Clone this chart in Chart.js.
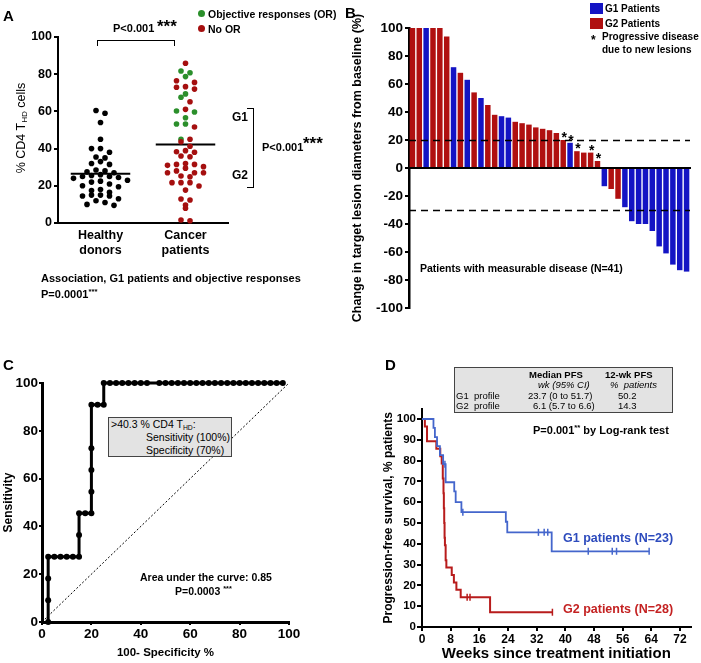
<!DOCTYPE html>
<html>
<head>
<meta charset="utf-8">
<title>THD profile figure</title>
<script src="https://cdn.jsdelivr.net/npm/chart.js@4.4.1/dist/chart.umd.min.js"></script>
<style>
  body{margin:0;background:#fff;}
  #fig{position:relative;width:701px;height:663px;overflow:hidden;font-family:'Liberation Sans',Arial,Helvetica,sans-serif;color:#000;}
  #fig canvas{position:absolute;}
  .tx{position:absolute;white-space:nowrap;line-height:1;transform:translateY(-50%);}
  .b{font-weight:bold;}
  .pl{font-size:15px;font-weight:bold;}
  .rot{position:absolute;white-space:nowrap;line-height:1;transform:translate(-50%,-50%) rotate(-90deg);}
  sup{font-size:70%;vertical-align:0.45em;line-height:0;}
  sub{font-size:65%;vertical-align:-0.3em;line-height:0;}
  .box{position:absolute;background:#e3e3e3;border:1px solid #444;box-sizing:border-box;}
  .dot{position:absolute;width:7px;height:7px;border-radius:50%;}
  .sq{position:absolute;width:13px;height:11px;}
</style>
</head>
<body>
<div id="fig">
  <canvas id="cA" width="345" height="300" style="left:0;top:0"></canvas>
  <canvas id="cB" width="356" height="330" style="left:345px;top:0"></canvas>
  <canvas id="cC" width="345" height="333" style="left:0;top:330px"></canvas>
  <canvas id="cD" width="356" height="333" style="left:345px;top:330px"></canvas>

  <!-- panel A -->
  <div class="tx pl" style="left:3px;top:15px">A</div>
  <div class="dot" style="left:198px;top:10px;background:#2b8f2b"></div>
  <div class="tx b" style="left:208px;top:14px;font-size:10.5px">Objective responses (OR)</div>
  <div class="dot" style="left:198px;top:25px;background:#a50f0f"></div>
  <div class="tx b" style="left:208px;top:29px;font-size:10.5px">No OR</div>
  <div style="position:absolute;left:97px;top:40px;width:76px;height:5px;border:1.5px solid #000;border-bottom:none"></div>
  <div class="tx b" style="left:113px;top:28px;font-size:11px">P&lt;0.001</div>
  <div class="tx b" style="left:157px;top:26px;font-size:17px">***</div>
  <div style="position:absolute;left:247px;top:108px;width:6px;height:78px;border:1.5px solid #000;border-left:none"></div>
  <div class="tx b" style="left:232px;top:117px;font-size:12px">G1</div>
  <div class="tx b" style="left:232px;top:175px;font-size:12px">G2</div>
  <div class="tx b" style="left:262px;top:147px;font-size:11px">P&lt;0.001</div>
  <div class="tx b" style="left:303px;top:143px;font-size:17px">***</div>
  <div class="tx b" style="left:41px;top:278px;font-size:11px">Association, G1 patients and objective responses</div>
  <div class="tx b" style="left:41px;top:294px;font-size:11px">P=0.0001<sup>***</sup></div>
  <div class="rot" style="left:21px;top:128px;font-size:12.5px">% CD4 T<sub>HD</sub> cells</div>

  <!-- panel B -->
  <div class="tx pl" style="left:345px;top:12px">B</div>
  <div class="sq" style="left:590px;top:3px;background:#1414c4"></div>
  <div class="tx b" style="left:605px;top:8.5px;font-size:10px">G1 Patients</div>
  <div class="sq" style="left:590px;top:18px;background:#b01010"></div>
  <div class="tx b" style="left:605px;top:23.5px;font-size:10px">G2 Patients</div>
  <div class="tx b" style="left:591px;top:40px;font-size:12px">*</div>
  <div class="tx b" style="left:602px;top:37px;font-size:10px">Progressive disease</div>
  <div class="tx b" style="left:602px;top:50px;font-size:10px">due to new lesions</div>
  <div class="tx b" style="left:420px;top:268px;font-size:10.5px">Patients with measurable disease (N=41)</div>

  <!-- panel C -->
  <div class="tx pl" style="left:3px;top:364px">C</div>
  <div class="box" style="left:108px;top:417px;width:124px;height:40px"></div>
  <div class="tx" style="left:111px;top:424px;font-size:10.5px">&gt;40.3 % CD4 T<sub>HD</sub>:</div>
  <div class="tx" style="left:146px;top:437px;font-size:10.5px">Sensitivity (100%)</div>
  <div class="tx" style="left:146px;top:450px;font-size:10.5px">Specificity (70%)</div>
  <div class="tx b" style="left:140px;top:577px;font-size:10.5px">Area under the curve: 0.85</div>
  <div class="tx b" style="left:175px;top:591px;font-size:10.5px">P=0.0003 <sup>***</sup></div>

  <!-- panel D -->
  <div class="tx pl" style="left:385px;top:364px">D</div>
  <div class="box" style="left:454px;top:367px;width:219px;height:46px"></div>
  <div class="tx b" style="left:529px;top:375px;font-size:9.5px">Median PFS</div>
  <div class="tx b" style="left:605px;top:375px;font-size:9.5px">12-wk PFS</div>
  <div class="tx" style="left:538px;top:385px;font-size:9.5px;font-style:italic">wk (95% CI)</div>
  <div class="tx" style="left:610px;top:385px;font-size:9.5px;font-style:italic">%&nbsp; patients</div>
  <div class="tx" style="left:456px;top:396px;font-size:9.5px">G1&nbsp; profile</div>
  <div class="tx" style="left:528px;top:396px;font-size:9.5px">23.7 (0 to 51.7)</div>
  <div class="tx" style="left:618px;top:396px;font-size:9.5px">50.2</div>
  <div class="tx" style="left:456px;top:406px;font-size:9.5px">G2&nbsp; profile</div>
  <div class="tx" style="left:533px;top:406px;font-size:9.5px">6.1 (5.7 to 6.6)</div>
  <div class="tx" style="left:618px;top:406px;font-size:9.5px">14.3</div>
  <div class="tx b" style="left:533px;top:430px;font-size:11px">P=0.001<sup>**</sup> by Log-rank test</div>
  <div class="tx b" style="left:563px;top:538px;font-size:12.5px;color:#2d4bbd">G1 patients (N=23)</div>
  <div class="tx b" style="left:563px;top:609px;font-size:12.5px;color:#c42222">G2 patients (N=28)</div>
</div>

<script>
/* ---------- data ---------- */
// A: % CD4 THD cells
const groupLabels=[['Healthy','donors'],['Cancer','patients']];
const healthyDonors=[60.5,59,54,45,40,40,38,35.5,35,33,32,31.5,28.5,28,27.5,27,26,25.5,25,25,
  24.5,24,23,22.5,22,21,20,19.5,18,17.5,16.5,15,15,14.5,14.5,13,12,11,10,9.5];
const cancerOR=[81.7,80.8,78.7,69.4,67.6,60.2,59.7,56.6,53.2,53.2,45];
const cancerNoOR=[85.9,76.5,75.6,73.3,73,72,65.2,61.1,51.6,45,43.7,41.3,
  38.9,38.3,38,36,35.6,32,31.5,31.5,31,30.3,29.5,28,27,27,27,25.3,24.9,
  21.7,21.7,21.7,19.9,17.7,12.9,12.4,9.7,7.9,1.6,1.2];

// B: waterfall, % change in target lesions
const bValues=[100,100,100,100,100,94,72,68,63,54,50,45,38,37,36,33,32,31,29,28,27,25,20,18,12,11,11,5,
  -13,-15,-22,-28,-38,-40,-40,-45,-56,-61,-69,-73,-74];
const bGroups=['G2','G2','G1','G2','G2','G2','G1','G2','G1','G2','G1','G2','G2','G1','G1','G2','G2','G2','G2','G2',
  'G2','G2','G2','G1','G2','G2','G2','G2','G1','G2','G2','G1','G1','G1','G1','G1','G1','G1','G1','G1','G1'];
const bNewLesions=[0,0,0,0,0, 0,0,0,0,0, 0,0,0,0,0, 0,0,0,0,0, 0,0,1,1,1, 0,1,1,0,0, 0,0,0,0,0, 0,0,0,0,0, 0];
const bThresholds=[20,-30];

// C: ROC curve
const rocFpr=[2.5,2.5,2.5,2.5,5,7.5,10,12.5,15,15,15,17.5,20,20,20,20,20,22.5,25,25,
  27.5,30,32.5,35,37.5,40,42.5,47.5,50,52.5,55,57.5,60,62.5,65,67.5,70,72.5,75,77.5,80,82.5,85,87.5,90,92.5,95,97.5];
const rocTpr=[0,9.09,18.18,27.27,27.27,27.27,27.27,27.27,27.27,36.36,45.45,45.45,45.45,54.55,63.64,72.73,90.91,90.91,90.91,100,
  100,100,100,100,100,100,100,100,100,100,100,100,100,100,100,100,100,100,100,100,100,100,100,100,100,100,100,100];
const chanceFpr=[0,100];
const chanceTpr=[0,100];

// D: Kaplan-Meier PFS
const g1Weeks=[0,3.2,3.6,4.2,5.0,5.9,6.6,9.0,9.4,11.0,23.4,23.8,36.2,63.4];
const g1Pfs=[100,95.7,91.3,87.0,82.6,78.3,69.6,65.2,60.0,55.2,50.6,45.5,36.4,36.4];
const g1CensWeeks=[6.4,11.4,32.5,34.1,35.1,46.4,53.1,54.3,63.4];
const g1CensPfs=[78.3,55.2,45.5,45.5,45.5,36.4,36.4,36.4,36.4];
const g2Weeks=[0,0.8,1.4,4.0,5.1,5.5,5.8,6.0,6.1,6.2,6.3,6.4,6.6,6.8,8.3,8.9,9.6,10.8,19.0,36.4];
const g2Pfs=[100,96.4,89.3,85.7,82.1,78.6,71.4,64.3,57.1,50.0,42.9,39.3,32.1,28.6,25.0,21.4,17.9,14.3,7.1,7.1];
const g2CensWeeks=[12.6,13.4,36.4];
const g2CensPfs=[14.3,14.3,7.1];

/* ---------- common ---------- */
Chart.defaults.font.family="'Liberation Sans', Arial, Helvetica, sans-serif";
Chart.defaults.color='#000';
Chart.defaults.animation=false;
Chart.defaults.plugins.legend.display=false;
Chart.defaults.plugins.tooltip.enabled=false;

const BLUE='#1414c4',RED='#b01010',GREEN='#2b8f2b',DKRED='#a50f0f';
const fixW=w=>s=>{s.width=w;};
const fixH=h=>s=>{s.height=h;};
const pts=(xs,ys)=>xs.map((x,i)=>({x,y:ys[i]}));
const mean=a=>a.reduce((s,v)=>s+v,0)/a.length;
function axisY(o){
  return Object.assign({
    ticks:{font:{size:12,weight:'bold'},padding:2},
    grid:{drawOnChartArea:false,color:'#000',lineWidth:2,tickLength:4},
    border:{color:'#000',width:2}
  },o);
}

/* row-style scatter (like a column scatter plot): values binned into rows, spread sideways */
function rowSwarm(items,center,binUnits,step){
  const rows={};
  items.forEach((d,i)=>{const k=Math.round(d.v/binUnits);(rows[k]=rows[k]||[]).push(i);});
  const xs=new Array(items.length);
  Object.values(rows).forEach(r=>{
    const n=r.length;
    // spread from the middle outwards so neighbours in value sit apart
    const slots=r.map((_,j)=>(j-(n-1)/2)*step);
    const order=slots.map((s,j)=>j).sort((a,b)=>Math.abs(slots[a])-Math.abs(slots[b]));
    r.forEach((idx,j)=>{xs[idx]=center+slots[order[j]];});
  });
  return xs;
}

/* ---------- A ---------- */
(function(){
  const STEP=9/85; // ~9 px between neighbouring dots
  const hItems=healthyDonors.map(v=>({v}));
  const hx=rowSwarm(hItems,1,3.5,STEP);
  const cItems=cancerOR.map(v=>({v,or:true})).concat(cancerNoOR.map(v=>({v,or:false})));
  cItems.sort((a,b)=>b.v-a.v);
  const cx=rowSwarm(cItems,2,3.5,STEP);
  const hm=mean(healthyDonors),cm=mean(cItems.map(d=>d.v));
  const dotOpts=c=>({pointRadius:2.8,pointBackgroundColor:c,pointBorderWidth:0,clip:false});
  const cPts=cItems.map((d,i)=>({x:cx[i],y:d.v}));
  new Chart(document.getElementById('cA'),{
    type:'scatter',
    data:{datasets:[
      Object.assign({data:hItems.map((d,i)=>({x:hx[i],y:d.v}))},dotOpts('#000')),
      Object.assign({data:cPts.filter((p,i)=>!cItems[i].or)},dotOpts(DKRED)),
      Object.assign({data:cPts.filter((p,i)=>cItems[i].or)},dotOpts(GREEN)),
      {type:'line',data:[{x:0.65,y:hm},{x:1.35,y:hm}],borderColor:'#000',borderWidth:2,pointRadius:0},
      {type:'line',data:[{x:1.65,y:cm},{x:2.35,y:cm}],borderColor:'#000',borderWidth:2,pointRadius:0}
    ]},
    options:{
      responsive:false,
      layout:{padding:{left:0,top:37,right:117,bottom:0}},
      scales:{
        x:{type:'linear',min:0.5,max:2.5,
          afterBuildTicks:s=>{s.ticks=[{value:1},{value:2}];},
          ticks:{callback:v=>groupLabels[v-1],font:{size:12.5,weight:'bold'},padding:5},
          grid:{display:false,drawTicks:false},
          border:{color:'#000',width:2},
          afterFit:fixH(77)},
        y:axisY({min:0,max:100,ticks:{stepSize:20,font:{size:12.5,weight:'bold'},padding:2},afterFit:fixW(58)})
      }
    }
  });
})();

/* ---------- B ---------- */
const thresholdLines={
  id:'thresholdLines',
  afterDatasetsDraw(chart){
    const {ctx,chartArea:a,scales:{y}}=chart;
    ctx.save();
    ctx.setLineDash([7,5]);ctx.lineWidth=1.5;ctx.strokeStyle='#000';
    bThresholds.forEach(v=>{
      const py=Math.round(y.getPixelForValue(v))+0.5;
      ctx.beginPath();ctx.moveTo(a.left,py);ctx.lineTo(a.right,py);ctx.stroke();
    });
    ctx.restore();
    // stars: progressive disease due to new lesions
    const meta=chart.getDatasetMeta(0);
    ctx.save();
    ctx.font="bold 14px 'Liberation Sans', Arial, sans-serif";
    ctx.textAlign='center';ctx.textBaseline='alphabetic';ctx.fillStyle='#000';
    bNewLesions.forEach((f,i)=>{
      if(!f)return;
      const el=meta.data[i];
      ctx.fillText('*',el.x+1,el.y+2);
    });
    ctx.restore();
  }
};
new Chart(document.getElementById('cB'),{
  type:'bar',
  data:{
    labels:bValues.map((v,i)=>i+1),
    datasets:[{data:bValues,backgroundColor:bGroups.map(g=>g==='G1'?BLUE:RED),
      barPercentage:0.8,categoryPercentage:1,borderWidth:0}]
  },
  options:{
    responsive:false,
    layout:{padding:{left:0,top:28,right:11,bottom:22}},
    scales:{
      x:{position:{y:0},ticks:{display:false},grid:{display:false,drawTicks:false},border:{color:'#000',width:2}},
      y:axisY({min:-100,max:100,
        ticks:{stepSize:20,font:{size:13.5,weight:'bold'},padding:2},
        border:{color:'#000',width:2.5},
        title:{display:true,text:'Change in target lesion diameters from baseline (%)',
          font:{size:12.5,weight:'bold'},padding:{top:5,bottom:0}},
        afterFit:fixW(64)})
    }
  },
  plugins:[thresholdLines]
});

/* ---------- C ---------- */
new Chart(document.getElementById('cC'),{
  type:'scatter',
  data:{datasets:[
    {type:'line',data:pts(rocFpr,rocTpr),borderColor:'#000',borderWidth:3,tension:0,
      pointRadius:3,pointBackgroundColor:'#000',pointBorderWidth:0,clip:false},
    {type:'line',data:pts(chanceFpr,chanceTpr),borderColor:'#000',borderWidth:1,borderDash:[2,2],
      pointRadius:0,clip:false}
  ]},
  options:{
    responsive:false,
    layout:{padding:{left:0,top:53,right:56,bottom:0}},
    scales:{
      x:axisY({type:'linear',min:0,max:100,
        ticks:{stepSize:20,font:{size:13.5,weight:'bold'},padding:1},
        grid:{drawOnChartArea:false,color:'#000',lineWidth:2,tickLength:3},
        border:{color:'#000',width:3},
        title:{display:true,text:'100- Specificity %',font:{size:11.5,weight:'bold'},padding:{top:0,bottom:3}},
        afterFit:fixH(41)}),
      y:axisY({min:0,max:100,
        ticks:{stepSize:20,font:{size:13.5,weight:'bold'},padding:1},
        grid:{drawOnChartArea:false,color:'#000',lineWidth:2,tickLength:3},
        border:{color:'#000',width:3},
        title:{display:true,text:'Sensitivity',font:{size:12,weight:'bold'},padding:{top:1,bottom:0}},
        afterFit:fixW(42)})
    }
  }
});

/* ---------- D ---------- */
const G1LINE='#4466cc',G2LINE='#b81c1c';
new Chart(document.getElementById('cD'),{
  type:'scatter',
  data:{datasets:[
    {type:'line',data:pts(g1Weeks,g1Pfs),stepped:true,borderColor:G1LINE,borderWidth:1.8,pointRadius:0,clip:false},
    {type:'line',data:pts(g2Weeks,g2Pfs),stepped:true,borderColor:G2LINE,borderWidth:2,pointRadius:0,clip:false},
    {data:pts(g1CensWeeks,g1CensPfs),pointStyle:'line',pointRotation:90,pointRadius:3.5,
      pointBorderColor:G1LINE,borderColor:G1LINE,pointBorderWidth:1.5,clip:false},
    {data:pts(g2CensWeeks,g2CensPfs),pointStyle:'line',pointRotation:90,pointRadius:3.5,
      pointBorderColor:G2LINE,borderColor:G2LINE,pointBorderWidth:1.5,clip:false}
  ]},
  options:{
    responsive:false,
    layout:{padding:{left:30,top:78.6,right:10.3,bottom:0}},
    scales:{
      x:axisY({type:'linear',min:0,max:75,
        ticks:{stepSize:8,includeBounds:false,font:{size:12,weight:'bold'},padding:1},
        grid:{drawOnChartArea:false,color:'#000',lineWidth:2,tickLength:4},
        title:{display:true,text:'Weeks since treatment initiation',font:{size:15,weight:'bold'},padding:{top:0,bottom:0}},
        afterFit:fixH(36)}),
      y:axisY({min:0,max:105,
        ticks:{stepSize:10,includeBounds:false,font:{size:11.5,weight:'bold'},padding:1},
        grid:{drawOnChartArea:false,color:'#000',lineWidth:2,tickLength:5},
        title:{display:true,text:'Progression-free survival, % patients',font:{size:12,weight:'bold'},padding:{top:6,bottom:0}},
        afterFit:fixW(47)})
    }
  }
});
</script>
</body>
</html>
